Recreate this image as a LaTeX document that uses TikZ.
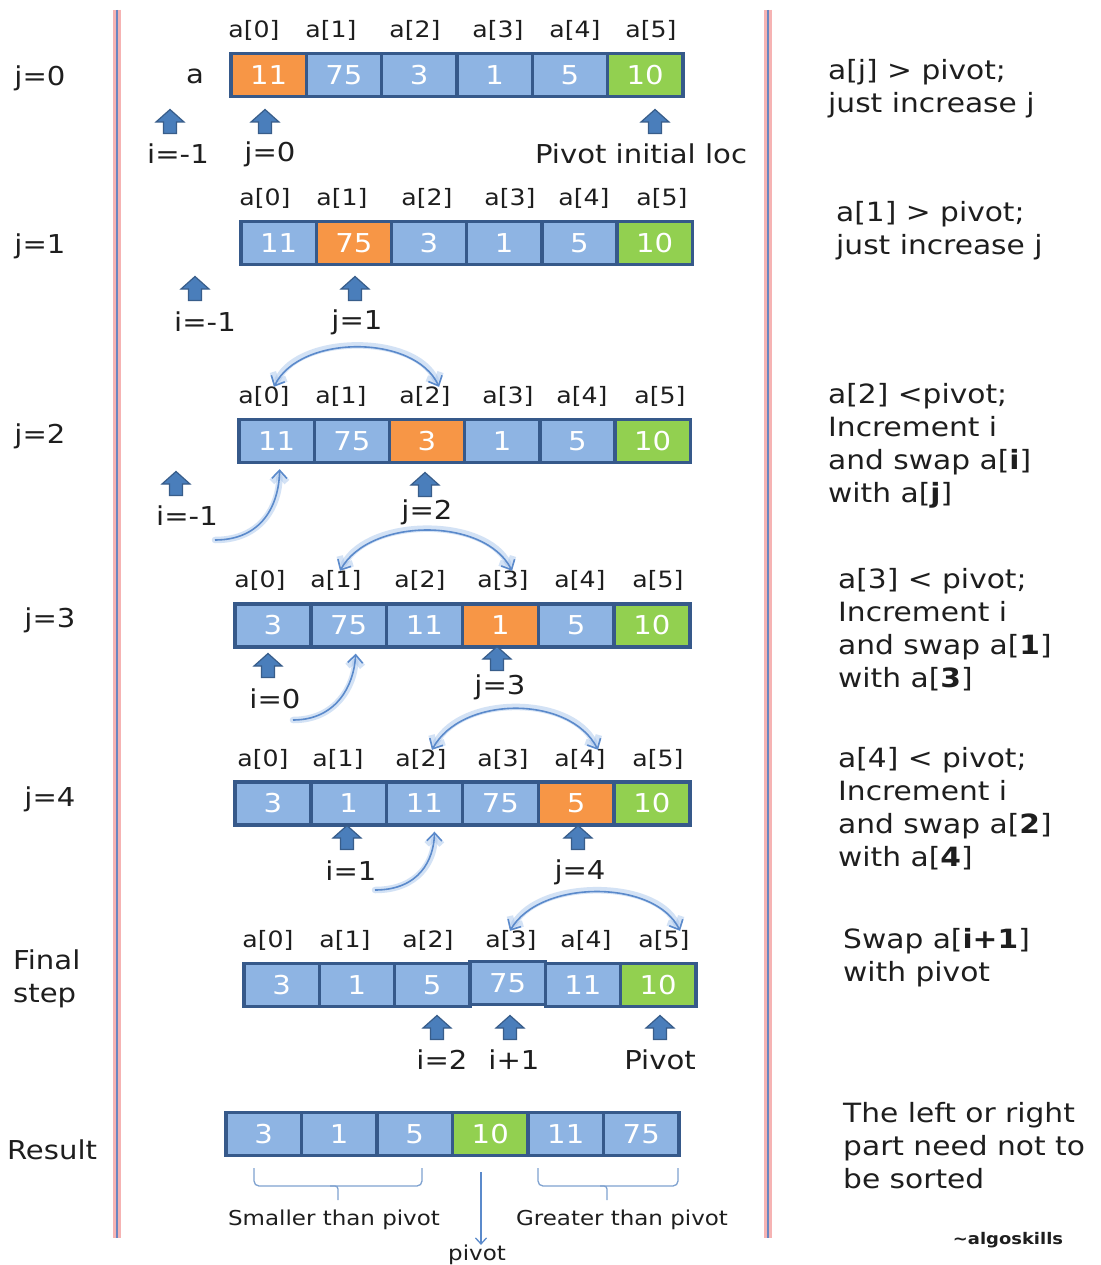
\documentclass[tikz,border=0pt]{standalone}
\usepackage{fontspec}
\setmainfont{DejaVu Sans}[FakeStretch=1.12]
\usetikzlibrary{arrows.meta,calc}
\definecolor{cellblue}{HTML}{8EB4E3}
\definecolor{cellborder}{HTML}{36598A}
\definecolor{corange}{HTML}{F79646}
\definecolor{cgreen}{HTML}{92D050}
\definecolor{ptrfill}{HTML}{4A7EBB}
\definecolor{ptrdraw}{HTML}{385D8A}
\definecolor{arcblue}{HTML}{5B8ACB}
\definecolor{glowblue}{HTML}{A9C6EC}
\definecolor{linepink}{HTML}{F6B3B3}
\definecolor{lineblue}{HTML}{6A86C0}
\definecolor{bracecol}{HTML}{7FA2D0}
\definecolor{txt}{HTML}{1E1E1E}
\newcommand\cellrow[5]{%
  \foreach \v/\c/\d [count=\k from 0] in {#5}{%
    \node[cell=#4pt, fill=\c] (#1\k) at ({#2+#4/2+#4*\k},{#3+\d}) {\v};}}
\newcommand\idxrow[3]{%
  \foreach \xx [count=\k from 0] in {#3}{%
    \node[idx] (#1\k) at (\xx,#2) {a[\k]};}}
\newcommand\gcurve[2]{\draw[glowline,#1] #2; \draw[arcline,#1] #2;}
\begin{document}
\begin{tikzpicture}[x=1pt,y=-1pt,
  cell/.style={draw=cellborder,line width=3.4pt,fill=cellblue,minimum width=#1,
    minimum height=43pt,inner sep=0pt,text=white,font=\fontsize{26}{30}\selectfont},
  idx/.style={text=txt,font=\fontsize{22.5}{26}\selectfont,inner sep=1pt},
  ptrlbl/.style={text=txt,font=\fontsize{26}{30}\selectfont,inner sep=1pt},
  steplbl/.style={text=txt,font=\fontsize{26}{33}\selectfont,align=left,inner sep=0pt},
  note/.style={text=txt,font=\fontsize{26.5}{33}\selectfont,align=left,anchor=west,inner sep=0pt},
  small/.style={text=txt,font=\fontsize{20.5}{24}\selectfont,inner sep=0pt},
  glowline/.style={draw=glowblue,line width=6.5pt,opacity=0.5,line cap=round},
  arcline/.style={draw=arcblue,line width=1.6pt},
  barb/.style={-{Straight Barb[length=8pt,width=15pt]}},
  barbs/.style={{Straight Barb[length=8pt,width=15pt]}-{Straight Barb[length=8pt,width=15pt]}},
  bracestyle/.style={draw=bracecol,line width=1.3pt},
  uparr/.pic={\path[fill=ptrfill,draw=ptrdraw,line width=1.2pt,line join=miter]
     (0,-12.5) -- (14,0) -- (6.5,0) -- (6.5,11.5) -- (-6.5,11.5) -- (-6.5,0) -- (-14,0) -- cycle;
     \coordinate (-tip) at (0,-12.5);},
]
\fill[white] (0,0) rectangle (1100,1265);
\useasboundingbox (0,0) rectangle (1100,1265);

% divider lines
\foreach \lx in {117,768}{
  \draw[linepink,line width=8pt] (\lx,10) -- (\lx,1238);
  \draw[lineblue,line width=2pt] (\lx,10) -- (\lx,1238);}

% ---------- j=0 ----------
\node[steplbl] (s0) at (40,78) {j=0};
\node[ptrlbl] (aname) at (195,76) {a};
\cellrow{r0c}{231}{75}{75.3}{11/corange/0,75/cellblue/0,3/cellblue/0,1/cellblue/0,5/cellblue/0,10/cgreen/0}
\idxrow{r0l}{30}{254,331,415,498,575,651}
\pic (r0p0) at (170,122) {uparr};
\pic (r0p1) at (265,122) {uparr};
\pic (r0p2) at (655,122) {uparr};
\node[ptrlbl] (r0t0) at (178,154) {i=-1};
\node[ptrlbl] (r0t1) at (270,154) {j=0};
\node[ptrlbl] (r0t2) at (641,154) {Pivot initial loc};
\node[note] (n0) at (828,89) {a[j] > pivot;\\just increase j};

% ---------- j=1 ----------
\node[steplbl] (s1) at (40,246) {j=1};
\cellrow{r1c}{241}{243}{75.2}{11/cellblue/0,75/corange/0,3/cellblue/0,1/cellblue/0,5/cellblue/0,10/cgreen/0}
\idxrow{r1l}{198}{265,342,427,510,584,662}
\pic (r1p0) at (195,289) {uparr};
\pic (r1p1) at (355,289) {uparr};
\node[ptrlbl] (r1t0) at (205,322) {i=-1};
\node[ptrlbl] (r1t1) at (357,322) {j=1};
\node[note] (n1) at (836,231) {a[1] > pivot;\\just increase j};

% ---------- j=2 ----------
\node[steplbl] (s2) at (40,436) {j=2};
\cellrow{r2c}{239}{441}{75.2}{11/cellblue/0,75/cellblue/0,3/corange/0,1/cellblue/0,5/cellblue/0,10/cgreen/0}
\idxrow{r2l}{396}{264,341,425,508,582,660}
\pic (r2p0) at (176,484) {uparr};
\pic (r2p1) at (425,485) {uparr};
\node[ptrlbl] (r2t0) at (187,516) {i=-1};
\node[ptrlbl] (r2t1) at (427,512) {j=2};
\node[note] (n2) at (828,446) {a[2] <pivot;\\Increment i\\and swap a[{\bfseries i}]\\with a[{\bfseries j}]};
\gcurve{barbs}{([xshift=10pt,yshift=-2pt]r2l0.north) .. controls (300,334) and (415,334) .. ([xshift=14pt,yshift=-2pt]r2l2.north)}
\coordinate (c2) at (215,540);
\gcurve{barb}{(c2) .. controls (262,540) and (279,505) .. ([xshift=3pt,yshift=-5pt]r2c0.south)}

% ---------- j=3 ----------
\node[steplbl] (s3) at (50,620) {j=3};
\cellrow{r3c}{235}{625.5}{75.8}{3/cellblue/0,75/cellblue/0,11/cellblue/0,1/corange/0,5/cellblue/0,10/cgreen/0}
\idxrow{r3l}{580}{260,336,420,503,580,658}
\pic (r3p0) at (268,666) {uparr};
\pic (r3p1) at (497,659) {uparr};
\node[ptrlbl] (r3t0) at (275,699) {i=0};
\node[ptrlbl] (r3t1) at (500,687) {j=3};
\node[note] (n3) at (838,630) {a[3] < pivot;\\Increment i\\and swap a[{\bfseries 1}]\\with a[{\bfseries 3}]};
\gcurve{barbs}{([xshift=4pt,yshift=-2pt]r3l1.north) .. controls (370,517) and (485,517) .. ([xshift=9pt,yshift=-2pt]r3l3.north)}
\coordinate (c3) at (293,720);
\gcurve{barb}{(c3) .. controls (336,720) and (354,686) .. ([xshift=7pt,yshift=-5pt]r3c1.south)}

% ---------- j=4 ----------
\node[steplbl] (s4) at (50,799) {j=4};
\cellrow{r4c}{235}{803.5}{75.8}{3/cellblue/0,1/cellblue/0,11/cellblue/0,75/cellblue/0,5/corange/0,10/cgreen/0}
\idxrow{r4l}{759}{263,338,421,503,580,658}
\pic (r4p0) at (347,838) {uparr};
\pic (r4p1) at (578,838) {uparr};
\node[ptrlbl] (r4t0) at (351,871) {i=1};
\node[ptrlbl] (r4t1) at (580,872) {j=4};
\node[note] (n4) at (838,809) {a[4] < pivot;\\Increment i\\and swap a[{\bfseries 2}]\\with a[{\bfseries 4}]};
\gcurve{barbs}{([xshift=11pt,yshift=-2pt]r4l2.north) .. controls (462,695) and (570,695) .. ([xshift=18pt,yshift=-2pt]r4l4.north)}
\coordinate (c4) at (375,890);
\gcurve{barb}{(c4) .. controls (419,890) and (434,860) .. ([xshift=10pt,yshift=-5pt]r4c2.south)}

% ---------- final step ----------
\node[steplbl,anchor=west] (s5) at (13,979) {Final\\step};
\cellrow{fc}{244}{985}{75.3}{3/cellblue/0,1/cellblue/0,5/cellblue/0,75/cellblue/-2,11/cellblue/0,10/cgreen/0}
\idxrow{fl}{940}{268,345,428,511,586,664}
\pic (fp0) at (437,1028) {uparr};
\pic (fp1) at (510,1028) {uparr};
\pic (fp2) at (660,1028) {uparr};
\node[ptrlbl] (ft0) at (442,1060) {i=2};
\node[ptrlbl] (ft1) at (514,1060) {i+1};
\node[ptrlbl] (ft2) at (660,1060) {Pivot};
\node[note] (n5) at (843,958) {Swap a[{\bfseries i+1}]\\with pivot};
\gcurve{barbs}{([xshift=-1pt,yshift=-2pt]fl3.north) .. controls (540,879) and (655,879) .. ([xshift=16pt,yshift=-2pt]fl5.north)}

% ---------- result ----------
\node[steplbl] (s6) at (52,1150) {Result};
\cellrow{rc}{226}{1134}{75.5}{3/cellblue/0,1/cellblue/0,5/cellblue/0,10/cgreen/0,11/cellblue/0,75/cellblue/0}
\draw[bracestyle,rounded corners=5pt] (254,1168) -- (254,1186) -- (422,1186) -- (422,1168);
\draw[bracestyle,rounded corners=3pt] (330,1186) -- (338,1186) -- (338,1200);
\draw[bracestyle,rounded corners=5pt] (538,1168) -- (538,1186) -- (678,1186) -- (678,1168);
\draw[bracestyle,rounded corners=3pt] (600,1186) -- (607,1186) -- (607,1200);
\node[small] (smt) at (334,1220) {Smaller than pivot};
\node[small] (grt) at (622,1220) {Greater than pivot};
\node[small] (pvt) at (477,1255) {pivot};
\coordinate (pv0) at (481,1172);
\draw[draw=arcblue,line width=1.3pt,-{Straight Barb[length=6pt,width=11pt]}] (pv0) -- (pv0 |- pvt.north);
\node[note] (n6) at (843,1146) {The left or right\\part need not to\\be sorted};
\node[text=txt,font=\bfseries\fontsize{16}{18}\selectfont] (sig) at (1008,1240) {\textasciitilde algoskills};
\end{tikzpicture}
\end{document}
